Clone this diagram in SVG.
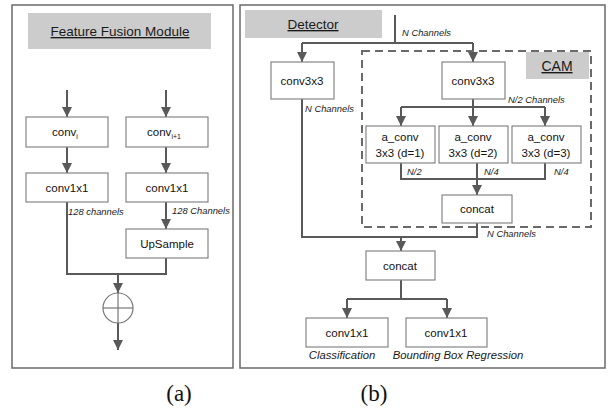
<svg xmlns="http://www.w3.org/2000/svg" width="609" height="408" viewBox="0 0 609 408">
<defs>
<marker id="ah" markerUnits="userSpaceOnUse" markerWidth="10" markerHeight="10" viewBox="0 0 10 10" refX="10" refY="5" orient="auto">
<path d="M0,0 L10,5 L0,10 z" fill="#595959"/>
</marker>
</defs>
<style>
.panel{fill:#fff;stroke:#6a6a6a;stroke-width:1.5}
.title{fill:#cccccc;stroke:none}
.tt{font-family:"Liberation Sans",Arial,sans-serif;font-size:13.5px;fill:#1a1a1a;text-anchor:middle;text-decoration:underline}
.box{fill:#fff;stroke:#858585;stroke-width:1.2}
.bt{font-family:"Liberation Sans",Arial,sans-serif;font-size:11.5px;fill:#111;text-anchor:middle}
.lb{font-family:"Liberation Sans",Arial,sans-serif;font-size:9.4px;font-style:italic;fill:#1a1a1a}
.ln{fill:none;stroke:#595959;stroke-width:2}
.ar{fill:none;stroke:#595959;stroke-width:2;marker-end:url(#ah)}
.dash{fill:none;stroke:#6a6a6a;stroke-width:2;stroke-dasharray:8,5}
.cap{font-family:"Liberation Serif","Times New Roman",serif;font-size:23px;fill:#111;text-anchor:middle}
</style>

<rect class="panel" x="12" y="5" width="221" height="363"/>
<rect class="panel" x="240" y="5" width="365" height="363"/>

<g id="fusion-title">
<rect class="title" x="28" y="13" width="183" height="36"/>
<text class="tt" x="120" y="36">Feature Fusion Module</text>
</g>

<g id="connectors">
<line class="ar" x1="67" y1="90" x2="67" y2="117"/>
<line class="ar" x1="166" y1="90" x2="166" y2="117"/>
<line class="ar" x1="67" y1="147" x2="67" y2="173"/>
<line class="ar" x1="166" y1="147" x2="166" y2="173"/>
<line class="ar" x1="166" y1="202" x2="166" y2="229"/>
<polyline class="ln" points="67,202 67,274 166,274 166,258"/>
<line class="ar" x1="118" y1="274" x2="118" y2="293"/>
<line class="ar" x1="118" y1="323" x2="118" y2="350"/>

<polyline class="ln" points="395,15 395,43"/>
<polyline class="ln" points="302,43 473,43"/>
<line class="ar" x1="302" y1="43" x2="302" y2="62"/>
<line class="ar" x1="473" y1="43" x2="473" y2="62"/>
<line class="ln" x1="473" y1="99" x2="473" y2="107"/>
<line class="ln" x1="401" y1="107" x2="545" y2="107"/>
<line class="ar" x1="401" y1="107" x2="401" y2="126"/>
<line class="ar" x1="473" y1="107" x2="473" y2="126"/>
<line class="ar" x1="545" y1="107" x2="545" y2="126"/>
<polyline class="ln" points="401,163 401,179 545,179 545,163"/>
<line class="ar" x1="477" y1="163" x2="477" y2="195"/>
<polyline class="ln" points="302,99 302,237 477,237 477,223"/>
<line class="ar" x1="401" y1="237" x2="401" y2="251"/>
<line class="ln" x1="401" y1="280" x2="401" y2="299"/>
<line class="ln" x1="347" y1="299" x2="447" y2="299"/>
<line class="ar" x1="347" y1="299" x2="347" y2="318"/>
<line class="ar" x1="447" y1="299" x2="447" y2="318"/>
</g>

<g id="conv-i">
<rect class="box" x="26" y="117" width="82" height="30"/>
<text class="bt" x="65" y="136">conv<tspan font-size="7" dy="3">i</tspan></text>
</g>
<g id="conv-i1">
<rect class="box" x="126" y="117" width="82" height="30"/>
<text class="bt" x="164" y="136">conv<tspan font-size="7" dy="3">i+1</tspan></text>
</g>
<g id="conv1x1-a">
<rect class="box" x="26" y="173" width="82" height="29"/>
<text class="bt" x="67" y="192">conv1x1</text>
</g>
<g id="conv1x1-b">
<rect class="box" x="126" y="173" width="82" height="29"/>
<text class="bt" x="167" y="192">conv1x1</text>
</g>
<text class="lb" x="68" y="215">128 channels</text>
<text class="lb" x="172" y="214">128 Channels</text>
<g id="upsample">
<rect class="box" x="126" y="229" width="82" height="29"/>
<text class="bt" x="167" y="248">UpSample</text>
</g>
<g id="sum">
<circle cx="118" cy="308" r="15" fill="#fff" stroke="#777" stroke-width="1.2"/>
<line x1="103" y1="308" x2="133" y2="308" stroke="#777" stroke-width="1.2"/>
<line x1="118" y1="293" x2="118" y2="323" stroke="#777" stroke-width="1.2"/>
</g>

<g id="detector-title">
<rect class="title" x="245" y="10" width="137" height="28"/>
<text class="tt" x="313" y="29">Detector</text>
</g>
<text class="lb" x="402" y="36">N Channels</text>

<g id="cam">
<rect class="dash" x="362" y="51" width="229" height="176"/>
<rect class="title" x="526" y="52" width="63" height="27"/>
<text class="tt" x="557" y="71" style="font-size:14px">CAM</text>
</g>

<g id="conv3x3-left">
<rect class="box" x="271" y="62" width="63" height="37"/>
<text class="bt" x="302" y="85">conv3x3</text>
</g>
<text class="lb" x="305" y="112">N Channels</text>

<g id="conv3x3-cam">
<rect class="box" x="442" y="62" width="63" height="37"/>
<text class="bt" x="473" y="85">conv3x3</text>
</g>
<text class="lb" x="508" y="103">N/2 Channels</text>

<g id="aconv1">
<rect class="box" x="366" y="126" width="69" height="37"/>
<text class="bt" x="400" y="141">a_conv</text>
<text class="bt" x="400" y="157">3x3 (d=1)</text>
</g>
<g id="aconv2">
<rect class="box" x="439" y="126" width="69" height="37"/>
<text class="bt" x="473" y="141">a_conv</text>
<text class="bt" x="473" y="157">3x3 (d=2)</text>
</g>
<g id="aconv3">
<rect class="box" x="512" y="126" width="69" height="37"/>
<text class="bt" x="546" y="141">a_conv</text>
<text class="bt" x="546" y="157">3x3 (d=3)</text>
</g>
<text class="lb" x="407" y="175">N/2</text>
<text class="lb" x="484" y="175">N/4</text>
<text class="lb" x="554" y="175">N/4</text>

<g id="concat-cam">
<rect class="box" x="442" y="195" width="70" height="28"/>
<text class="bt" x="477" y="213">concat</text>
</g>
<text class="lb" x="487" y="237">N Channels</text>

<g id="concat">
<rect class="box" x="366" y="251" width="69" height="29"/>
<text class="bt" x="400" y="270">concat</text>
</g>

<g id="conv1x1-cls">
<rect class="box" x="306" y="318" width="82" height="29"/>
<text class="bt" x="347" y="337">conv1x1</text>
</g>
<g id="conv1x1-reg">
<rect class="box" x="406" y="318" width="81" height="29"/>
<text class="bt" x="446" y="337">conv1x1</text>
</g>
<text class="lb" x="342" y="359" text-anchor="middle" style="font-size:11.3px">Classification</text>
<text class="lb" x="458" y="359" text-anchor="middle" style="font-size:11.3px">Bounding Box Regression</text>

<text class="cap" x="179" y="401">(a)</text>
<text class="cap" x="374" y="401">(b)</text>
</svg>
